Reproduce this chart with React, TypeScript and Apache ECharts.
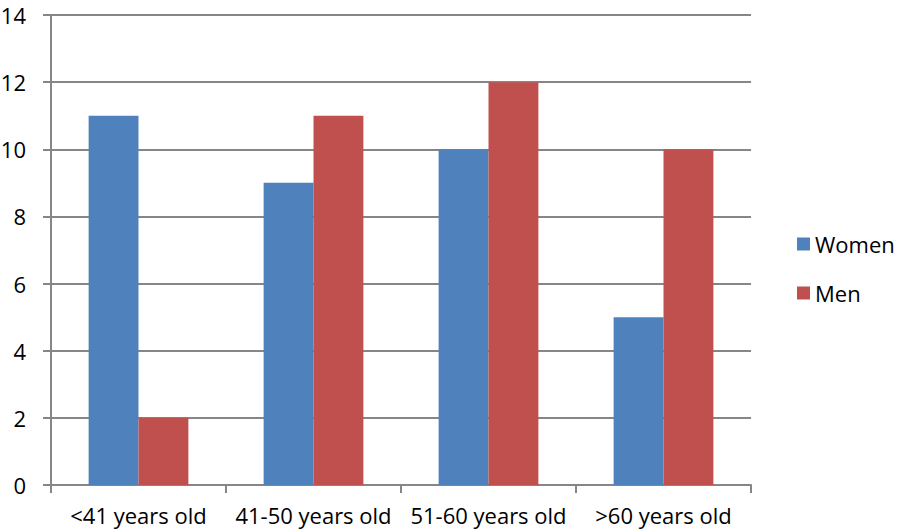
import React, { useEffect, useRef } from "react";
import * as echarts from "echarts";

const categories = ["<41 years old", "41-50 years old", "51-60 years old", ">60 years old"];
const women = [11, 9, 10, 5];
const men = [2, 11, 12, 10];
const yTicks = { min: 0, max: 14, interval: 2 };

export default function App() {
  const ref = useRef<HTMLDivElement>(null);
  useEffect(() => {
    if (!ref.current) return;
    const chart = echarts.init(ref.current, null, { renderer: "svg" });
    const font = "'Open Sans', 'Liberation Sans', sans-serif";
    chart.setOption({
      animation: false,
      backgroundColor: "#ffffff",
      textStyle: { fontFamily: font },
      grid: { left: 51, right: 147, top: 15, bottom: 47, containLabel: false, outerBoundsMode: "none" },
      legend: {
        orient: "vertical",
        left: 792,
        top: 228,
        itemWidth: 13,
        itemHeight: 13,
        itemGap: 27,
        icon: "rect",
        textStyle: { fontSize: 22, lineHeight: 20, color: "#000", fontFamily: font },
        data: ["Women", "Men"],
      },
      xAxis: {
        type: "category",
        data: categories,
        axisLine: { lineStyle: { color: "#868686", width: 2 } },
        axisTick: { show: true, length: 8, lineStyle: { color: "#868686", width: 2 } },
        axisLabel: { fontSize: 22, color: "#000", margin: 19, interval: 0, fontFamily: font },
      },
      yAxis: {
        type: "value",
        min: yTicks.min,
        max: yTicks.max,
        interval: yTicks.interval,
        axisLine: { show: true, lineStyle: { color: "#868686", width: 2 } },
        axisTick: { show: true, length: 8, lineStyle: { color: "#868686", width: 2 } },
        axisLabel: { fontSize: 22, color: "#000", margin: 25, fontFamily: font },
        splitLine: { lineStyle: { color: "#868686", width: 2 } },
      },
      series: [
        {
          name: "Women",
          type: "bar",
          data: women,
          itemStyle: { color: "#4F81BD" },
          barGap: "0%",
          barCategoryGap: "43%",
        },
        {
          name: "Men",
          type: "bar",
          data: men,
          itemStyle: { color: "#C0504D" },
          barGap: "0%",
          barCategoryGap: "43%",
        },
      ],
    });
    return () => chart.dispose();
  }, []);
  return (
    <div
      ref={ref}
      style={{ position: "fixed", left: 0, top: 0, width: 898, height: 532, background: "#fff" }}
    />
  );
}
